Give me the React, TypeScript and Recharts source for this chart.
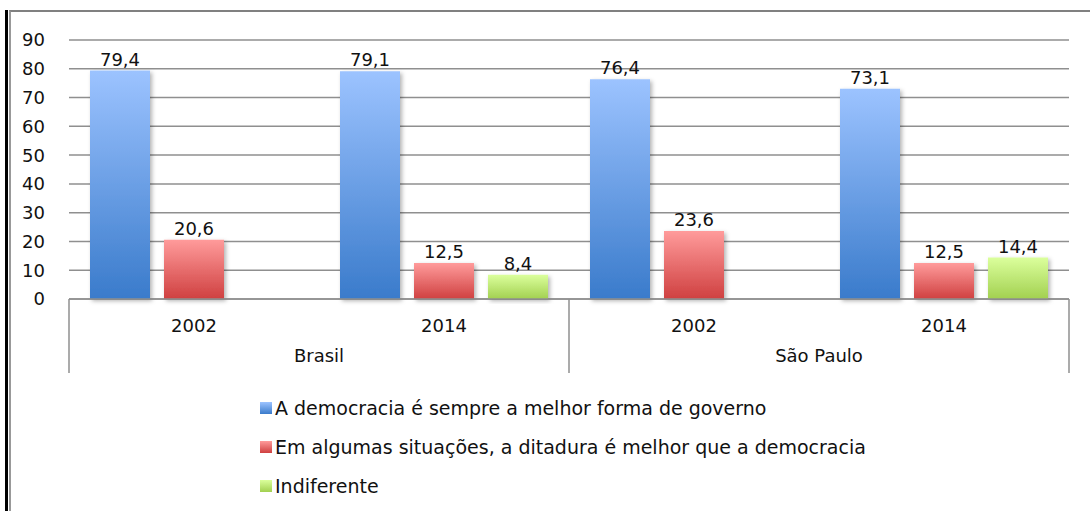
import React from 'react';
import { BarChart, Bar, XAxis, YAxis, CartesianGrid, LabelList, Legend } from 'recharts';

// valores
const years = ['2002', '2014', '2002', '2014'];
const countries = ['Brasil', 'Brasil', 'São Paulo', 'São Paulo'];
const democracia = [79.4, 79.1, 76.4, 73.1];
const ditadura = [20.6, 12.5, 23.6, 12.5];
const indiferente = [null, 8.4, null, 14.4];
const yTicks = [0, 10, 20, 30, 40, 50, 60, 70, 80, 90];

const seriesNames = [
  'A democracia é sempre a melhor forma de governo',
  'Em algumas situações, a ditadura é melhor que a democracia',
  'Indiferente',
];

const data = years.map((y, i) => ({
  id: `${countries[i]}-${y}`,
  year: y,
  country: countries[i],
  democracia: democracia[i],
  ditadura: ditadura[i],
  indiferente: indiferente[i],
}));

const W = 1090;
const H = 511;
const Y_AXIS_W = 69;
const margin = { top: 40, right: 21, bottom: 132, left: 0 };
const plotW = W - margin.left - margin.right - Y_AXIS_W;
const FONT = '"DejaVu Sans", Verdana, sans-serif';
const AXIS_GRAY = '#8f8f8f';
const TEXT = '#111';

const fmt = (v: any) => (v == null ? '' : Number(v).toFixed(1).replace('.', ','));

const CategoryTick = (props: any) => {
  const { x, y, payload, index } = props;
  const band = plotW / data.length;
  const row = data[index];
  const isFirstOfCountry = index === 0 || data[index - 1].country !== row.country;
  const isLast = index === data.length - 1;
  return (
    <g>
      <text x={x} y={y + 33} textAnchor="middle" fontSize={18} fontFamily={FONT} fill={TEXT}>
        {row ? row.year : payload.value}
      </text>
      {isFirstOfCountry && (
        <>
          <line x1={x - band / 2} x2={x - band / 2} y1={y} y2={y + 74} stroke={AXIS_GRAY} strokeWidth={1.5} />
          <text x={x + band / 2} y={y + 63} textAnchor="middle" fontSize={18} fontFamily={FONT} fill={TEXT}>
            {row.country}
          </text>
        </>
      )}
      {isLast && (
        <line x1={x + band / 2} x2={x + band / 2} y1={y} y2={y + 74} stroke={AXIS_GRAY} strokeWidth={1.5} />
      )}
    </g>
  );
};

const legendFills = ['url(#gBlue)', 'url(#gRed)', 'url(#gGreen)'];

const LegendContent = () => (
  <div style={{ fontFamily: FONT, fontSize: 19, color: TEXT }}>
    {seriesNames.map((name, i) => (
      <div key={name} style={{ display: 'flex', alignItems: 'center', height: 39 }}>
        <svg width={13} height={12} style={{ marginRight: 2 }}>
          <rect x={0} y={0} width={12} height={12} fill={legendFills[i]} />
        </svg>
        <span>{name}</span>
      </div>
    ))}
  </div>
);

const labelStyle = { fontSize: 18, fontFamily: FONT, fill: TEXT };

export default function App() {
  return (
    <div style={{ position: 'absolute', left: 0, top: 0, width: W, height: H, overflow: 'hidden', background: '#fff' }}>
      <div style={{ position: 'absolute', left: 5, top: 10, width: 1200, height: 600, borderLeft: '3px solid #000' }} />
      <div
        style={{
          position: 'absolute',
          left: 9,
          top: 10,
          width: 1200,
          height: 600,
          borderLeft: '2px solid #999',
          borderTop: '2px solid #808080',
        }}
      />
      <div style={{ position: 'absolute', left: 0, top: 0 }}>
        <BarChart width={W} height={H} data={data} margin={margin} barSize={60} barGap={14}>
          <defs>
            <linearGradient id="gBlue" x1="0" y1="0" x2="0" y2="1">
              <stop offset="0%" stopColor="#9cc3ff" />
              <stop offset="100%" stopColor="#3a7bcb" />
            </linearGradient>
            <linearGradient id="gRed" x1="0" y1="0" x2="0" y2="1">
              <stop offset="0%" stopColor="#ff9b9b" />
              <stop offset="100%" stopColor="#cf4040" />
            </linearGradient>
            <linearGradient id="gGreen" x1="0" y1="0" x2="0" y2="1">
              <stop offset="0%" stopColor="#dbff9c" />
              <stop offset="100%" stopColor="#a2d050" />
            </linearGradient>
            <filter id="shadow" x="-20%" y="-10%" width="140%" height="130%">
              <feDropShadow dx={2} dy={2} stdDeviation={2} floodColor="#000" floodOpacity={0.3} />
            </filter>
          </defs>
          <CartesianGrid vertical={false} stroke={AXIS_GRAY} strokeWidth={1.5} />
          <XAxis
            dataKey="id"
            height={80}
            interval={0}
            tickLine={false}
            tickSize={0}
            tickMargin={0}
            axisLine={{ stroke: AXIS_GRAY, strokeWidth: 1.5 }}
            tick={<CategoryTick />}
          />
          <YAxis
            domain={[0, 90]}
            ticks={yTicks}
            axisLine={false}
            tickLine={false}
            tickMargin={18}
            width={Y_AXIS_W}
            tick={labelStyle}
          />
          <Legend
            layout="vertical"
            align="center"
            verticalAlign="middle"
            content={<LegendContent />}
            wrapperStyle={{ left: 260, top: 388, width: 780 }}
          />
          <Bar dataKey="democracia" name={seriesNames[0]} fill="url(#gBlue)" filter="url(#shadow)" isAnimationActive={false}>
            <LabelList dataKey="democracia" position="top" formatter={fmt} style={labelStyle} />
          </Bar>
          <Bar dataKey="ditadura" name={seriesNames[1]} fill="url(#gRed)" filter="url(#shadow)" isAnimationActive={false}>
            <LabelList dataKey="ditadura" position="top" formatter={fmt} style={labelStyle} />
          </Bar>
          <Bar dataKey="indiferente" name={seriesNames[2]} fill="url(#gGreen)" filter="url(#shadow)" isAnimationActive={false}>
            <LabelList dataKey="indiferente" position="top" formatter={fmt} style={labelStyle} />
          </Bar>
        </BarChart>
      </div>
    </div>
  );
}
